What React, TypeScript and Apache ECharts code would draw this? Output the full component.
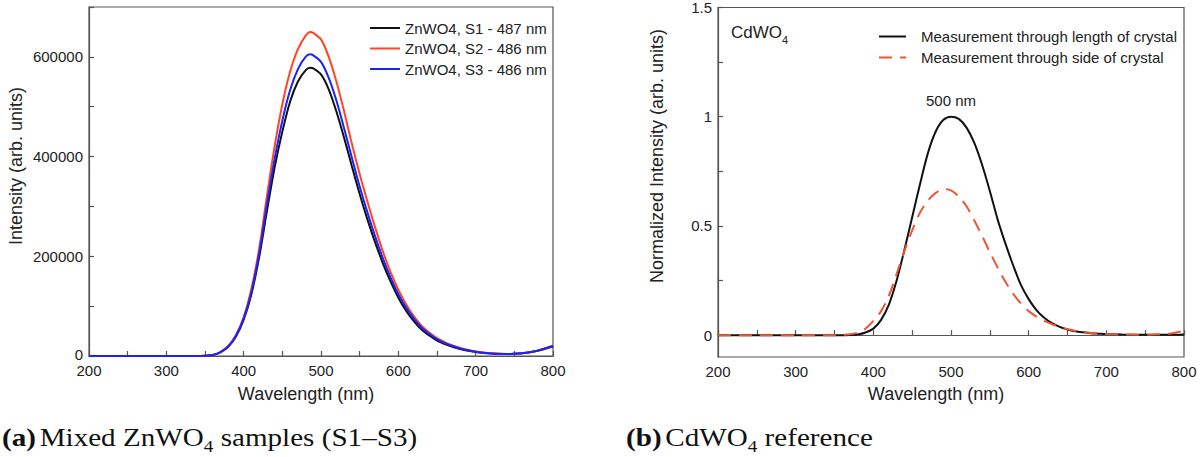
import React, { useEffect, useRef } from "react";
import * as echarts from "echarts";

// ---------- Data (a) Mixed ZnWO4 samples ----------
const znWavelengths = [
  200, 250, 300, 340, 350, 360, 370, 380, 390, 400, 410, 420, 430, 440, 450, 460, 470, 480, 486,
  490, 500, 510, 520, 530, 540, 550, 560, 570, 580, 590, 600, 610, 620, 630, 640, 650, 660, 670,
  680, 690, 700, 710, 720, 730, 740, 750, 760, 770, 780, 790, 800,
];
const s1Values = [
  0, 0, 0, 0, 500, 2000, 7500, 18500, 39000, 73000, 124000, 198000, 290000, 378000, 450000, 510000,
  550000, 573000, 578000, 577000, 565000, 535000, 490000, 437000, 380000, 325000, 274000, 228000,
  186000, 149000, 117000, 91000, 70000, 53000, 41000, 31000, 24000, 18500, 14000, 10500, 8000, 6200,
  5000, 4200, 4000, 4400, 5500, 7500, 10500, 14500, 19000,
];
const s2Values = [
  0, 0, 0, 0, 500, 2000, 8000, 20000, 42000, 78000, 135000, 215000, 320000, 420000, 505000, 570000,
  615000, 642000, 650000, 648000, 635000, 600000, 550000, 490000, 425000, 365000, 310000, 258000,
  210000, 168000, 133000, 104000, 80000, 61000, 47000, 36000, 28000, 21000, 16000, 12000, 9000, 7000,
  5500, 4500, 4000, 4500, 5500, 7500, 10800, 15500, 21000,
];
const s3Values = [
  0, 0, 0, 0, 500, 2000, 8000, 19000, 40000, 75000, 128000, 205000, 303000, 395000, 472000, 533000,
  575000, 600000, 605000, 603000, 590000, 558000, 512000, 456000, 397000, 340000, 288000, 240000,
  196000, 157000, 124000, 97000, 75000, 57000, 44000, 34000, 26000, 20000, 15000, 11500, 8500, 6500,
  5200, 4300, 4000, 4400, 5500, 7500, 10600, 15000, 20000,
];
const znSeriesNames = ["ZnWO4, S1 - 487 nm", "ZnWO4, S2 - 486 nm", "ZnWO4, S3 - 486 nm"];

// ---------- Data (b) CdWO4 reference ----------
const cdWavelengths = [
  200, 250, 300, 350, 360, 370, 380, 390, 400, 410, 420, 430, 440, 450, 460, 470, 480, 490, 500, 510,
  520, 530, 540, 550, 560, 570, 580, 590, 600, 610, 620, 630, 640, 650, 660, 670, 680, 690, 700, 720,
  740, 760, 780, 790, 800,
];
const lengthValues = [
  0, 0, 0, 0, 0, 0.001, 0.003, 0.012, 0.03, 0.07, 0.14, 0.25, 0.39, 0.54, 0.69, 0.83, 0.93, 0.985, 1.0,
  0.99, 0.95, 0.88, 0.78, 0.66, 0.53, 0.42, 0.32, 0.23, 0.165, 0.115, 0.08, 0.055, 0.038, 0.026, 0.018,
  0.013, 0.009, 0.007, 0.005, 0.003, 0.002, 0.002, 0.002, 0.002, 0.003,
];
const sideValues = [
  0, 0, 0, 0, 0.001, 0.004, 0.012, 0.03, 0.065, 0.11, 0.18, 0.28, 0.385, 0.48, 0.56, 0.615, 0.65, 0.668,
  0.663, 0.635, 0.59, 0.525, 0.455, 0.38, 0.31, 0.245, 0.19, 0.145, 0.11, 0.085, 0.065, 0.05, 0.037,
  0.027, 0.02, 0.014, 0.01, 0.007, 0.005, 0.003, 0.002, 0.003, 0.006, 0.012, 0.02,
];
const cdSeriesNames = ["Measurement through length of crystal", "Measurement through side of crystal"];

const xTicks = [200, 250, 300, 350, 400, 450, 500, 550, 600, 650, 700, 750, 800];
const leftYTickStep = 100000;
const leftYLabelStep = 200000;
const rightYTicks = [0, 0.25, 0.5, 0.75, 1, 1.25, 1.5];
const rightYLabels = [0, 0.5, 1, 1.5];

const SANS = "'Liberation Sans', Arial, sans-serif";
const SERIF = "'Liberation Serif', 'Times New Roman', serif";
const AXIS_COLOR = "#555";
const TEXT_COLOR = "#222";

const zip = (xs: number[], ys: number[]) => xs.map((x, i) => [x, ys[i]]);

function xAxisFor(gridIndex: number) {
  return {
    type: "value",
    gridIndex,
    min: xTicks[0],
    max: xTicks[xTicks.length - 1],
    interval: 50,
    axisLine: { show: true, lineStyle: { color: AXIS_COLOR, width: 1.2 } },
    axisTick: { show: true, inside: true, length: 5, lineStyle: { color: AXIS_COLOR, width: 1.2 } },
    axisLabel: {
      fontFamily: SANS,
      fontSize: 15,
      lineHeight: 12,
      color: TEXT_COLOR,
      margin: 8,
      formatter: (v: number) => (v % 100 === 0 ? String(v) : ""),
    },
    splitLine: { show: false },
  };
}

const legendHidden = { color: "rgba(0,0,0,0)", borderColor: "rgba(0,0,0,0)", borderWidth: 0 };

function caption(x: number, label: string, before: string, after: string) {
  return {
    type: "text",
    x,
    y: 419,
    scaleX: 1.12,
    style: {
      text: `{b|${label}} {r|${before}}{s|4}{r|${after}}`,
      rich: {
        b: { fontFamily: SERIF, fontSize: 26, fontWeight: "bold", fill: "#111", lineHeight: 30, verticalAlign: "middle" },
        r: { fontFamily: SERIF, fontSize: 26, fill: "#111", lineHeight: 30, verticalAlign: "middle" },
        s: { fontFamily: SERIF, fontSize: 17, fill: "#111", lineHeight: 36, verticalAlign: "bottom" },
      },
    },
  };
}

export default function App() {
  const ref = useRef<HTMLDivElement>(null);

  useEffect(() => {
    if (!ref.current) return;
    const chart = echarts.init(ref.current, undefined, { renderer: "svg" });

    const option = {
      animation: false,
      backgroundColor: "#fff",
      grid: [
        { left: 89, top: 7, width: 464, height: 349, show: true, borderColor: AXIS_COLOR, borderWidth: 1.2 },
        { left: 718, top: 7, width: 466, height: 350, show: true, borderColor: AXIS_COLOR, borderWidth: 1.2 },
      ],
      xAxis: [xAxisFor(0), xAxisFor(1)],
      yAxis: [
        {
          type: "value",
          gridIndex: 0,
          min: 0,
          max: 700000,
          interval: leftYTickStep,
          axisLine: { show: true, lineStyle: { color: AXIS_COLOR, width: 1.2 } },
          axisTick: { show: true, inside: true, length: 5, lineStyle: { color: AXIS_COLOR, width: 1.2 } },
          axisLabel: {
            fontFamily: SANS,
            fontSize: 15,
            lineHeight: 12,
            color: TEXT_COLOR,
            margin: 6,
            formatter: (v: number) =>
              v === 0 ? "{z|0}" : v % leftYLabelStep === 0 ? String(v) : "",
            rich: {
              z: { fontFamily: SANS, fontSize: 15, lineHeight: 12, color: TEXT_COLOR, padding: [0, 0, 4, 0] },
            },
          },
          splitLine: { show: false },
        },
        {
          type: "value",
          gridIndex: 1,
          min: -0.1,
          max: 1.5,
          axisLine: { show: true, lineStyle: { color: AXIS_COLOR, width: 1.2 } },
          axisTick: {
            show: true,
            inside: true,
            length: 5,
            customValues: rightYTicks,
            lineStyle: { color: AXIS_COLOR, width: 1.2 },
          },
          axisLabel: {
            fontFamily: SANS,
            fontSize: 15,
            lineHeight: 12,
            color: TEXT_COLOR,
            margin: 6,
            customValues: rightYLabels,
            formatter: (v: number) => String(v),
          },
          splitLine: { show: false },
        },
      ],
      legend: [
        {
          left: 364,
          top: 15.5,
          orient: "vertical",
          itemWidth: 30,
          itemHeight: 14,
          itemGap: 5.5,
          data: znSeriesNames,
          itemStyle: legendHidden,
          textStyle: { fontFamily: SANS, fontSize: 15, color: TEXT_COLOR },
          selectedMode: false,
        },
        {
          left: 873,
          top: 24,
          orient: "vertical",
          itemWidth: 27,
          itemHeight: 14,
          itemGap: 6,
          data: cdSeriesNames,
          itemStyle: legendHidden,
          textStyle: { fontFamily: SANS, fontSize: 15, color: TEXT_COLOR, padding: [0, 0, 0, 10] },
          selectedMode: false,
        },
      ],
      series: [
        {
          name: znSeriesNames[0],
          type: "line",
          xAxisIndex: 0,
          yAxisIndex: 0,
          data: zip(znWavelengths, s1Values),
          symbol: "none",
          smooth: 0.3,
          lineStyle: { color: "#111111", width: 2 },
          itemStyle: { color: "#111111" },
        },
        {
          name: znSeriesNames[1],
          type: "line",
          xAxisIndex: 0,
          yAxisIndex: 0,
          data: zip(znWavelengths, s2Values),
          symbol: "none",
          smooth: 0.3,
          lineStyle: { color: "#ff4526", width: 2 },
          itemStyle: { color: "#ff4526" },
        },
        {
          name: znSeriesNames[2],
          type: "line",
          xAxisIndex: 0,
          yAxisIndex: 0,
          data: zip(znWavelengths, s3Values),
          symbol: "none",
          smooth: 0.3,
          lineStyle: { color: "#1a22ff", width: 2 },
          itemStyle: { color: "#1a22ff" },
        },
        {
          name: cdSeriesNames[0],
          type: "line",
          xAxisIndex: 1,
          yAxisIndex: 1,
          data: zip(cdWavelengths, lengthValues),
          symbol: "none",
          smooth: 0.3,
          lineStyle: { color: "#111111", width: 2 },
          itemStyle: { color: "#111111" },
          markPoint: {
            symbol: "circle",
            symbolSize: 1,
            itemStyle: { color: "transparent" },
            data: [{ coord: [500, 1.0], value: 500 }],
            label: {
              show: true,
              position: "top",
              distance: 8,
              formatter: "500 nm",
              fontFamily: SANS,
              fontSize: 15,
              color: TEXT_COLOR,
            },
          },
        },
        {
          name: cdSeriesNames[1],
          type: "line",
          xAxisIndex: 1,
          yAxisIndex: 1,
          data: zip(cdWavelengths, sideValues),
          symbol: "none",
          smooth: 0.3,
          lineStyle: { color: "#ee5533", width: 2, type: [13, 8] },
          itemStyle: { color: "#ee5533" },
        },
      ],
      graphic: [
        {
          type: "text",
          x: 16,
          y: 166,
          rotation: Math.PI / 2,
          style: {
            text: "Intensity (arb. units)",
            font: `18px ${SANS}`,
            fill: TEXT_COLOR,
            align: "center",
            verticalAlign: "middle",
          },
        },
        {
          type: "text",
          x: 657,
          y: 156,
          rotation: Math.PI / 2,
          style: {
            text: "Normalized Intensity (arb. units)",
            font: `18px ${SANS}`,
            fill: TEXT_COLOR,
            align: "center",
            verticalAlign: "middle",
          },
        },
        {
          type: "text",
          x: 306,
          y: 394,
          style: {
            text: "Wavelength (nm)",
            font: `18px ${SANS}`,
            fill: TEXT_COLOR,
            align: "center",
            verticalAlign: "middle",
          },
        },
        {
          type: "text",
          x: 936,
          y: 394,
          style: {
            text: "Wavelength (nm)",
            font: `18px ${SANS}`,
            fill: TEXT_COLOR,
            align: "center",
            verticalAlign: "middle",
          },
        },
        {
          type: "text",
          x: 731,
          y: 19,
          style: {
            text: "{m|CdWO}{s|4}",
            rich: {
              m: { fontFamily: SANS, fontSize: 17, fill: TEXT_COLOR, lineHeight: 20, verticalAlign: "middle" },
              s: { fontFamily: SANS, fontSize: 11, fill: TEXT_COLOR, lineHeight: 26, verticalAlign: "bottom" },
            },
          },
        },
        caption(2, "(a)", "Mixed ZnWO", " samples (S1–S3)"),
        caption(626, "(b)", "CdWO", " reference"),
      ],
    };

    chart.setOption(option as any);
    return () => chart.dispose();
  }, []);

  return (
    <div
      ref={ref}
      style={{ position: "absolute", left: 0, top: 0, width: 1204, height: 457, background: "#fff" }}
    />
  );
}
